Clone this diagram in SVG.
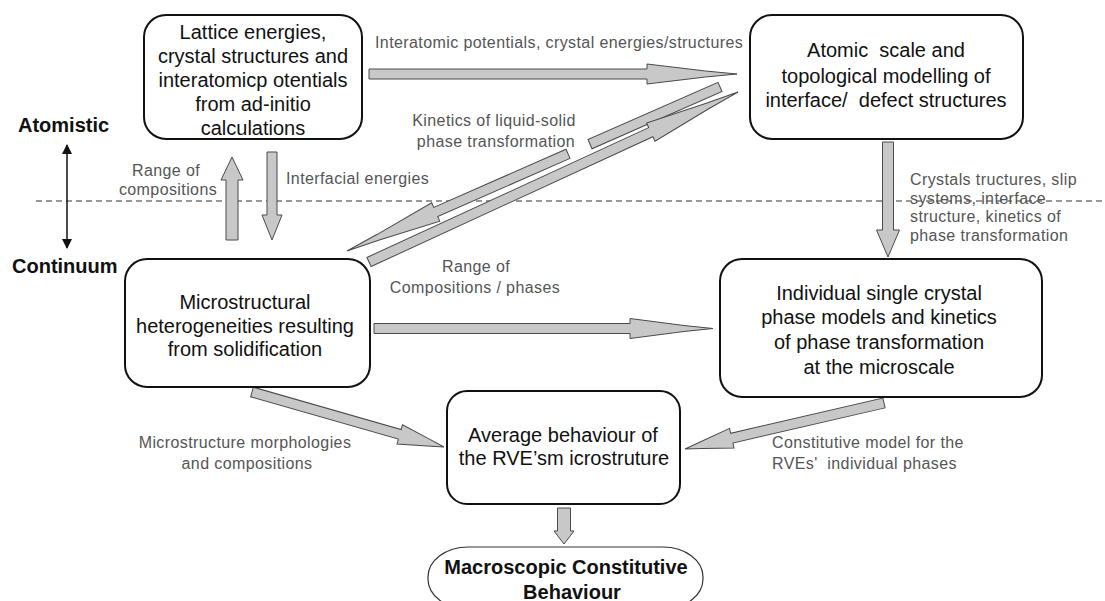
<svg xmlns="http://www.w3.org/2000/svg" width="1105" height="601" viewBox="0 0 1105 601">
<style>
.box{fill:#fff;stroke:#111;stroke-width:2}
.nt{font-family:"Liberation Sans",Arial,sans-serif;font-size:20px;fill:#111;text-anchor:middle}
.lb{font-family:"Liberation Sans",Arial,sans-serif;font-size:16px;fill:#555;letter-spacing:0.4px}
.mid{text-anchor:middle}
.sc{font-family:"Liberation Sans",Arial,sans-serif;font-size:20px;font-weight:bold;fill:#111}
.ar{fill:#c8c8c8;stroke:#4a4a4a;stroke-width:1;stroke-linejoin:miter}
</style>
<defs>
<marker id="hd" viewBox="0 0 10 10" refX="9" refY="5" markerWidth="10" markerHeight="10" markerUnits="userSpaceOnUse" orient="auto-start-reverse">
<path d="M0,0 L10,5 L0,10 Z" fill="#111"/>
</marker>
</defs>
<rect width="1105" height="601" fill="#fff"/>

<!-- scale markers -->
<line x1="36" y1="201" x2="1105" y2="201" stroke="#333" stroke-width="1" stroke-dasharray="6 4"/>
<text class="sc" x="18" y="132">Atomistic</text>
<text class="sc" x="12" y="273">Continuum</text>
<line x1="67" y1="145" x2="67" y2="248" stroke="#111" stroke-width="1.5" marker-start="url(#hd)" marker-end="url(#hd)"/>

<g id="connectors">
<!-- top horizontal -->
<g transform="translate(369,74)"><polygon class="ar" points="0,-5 278,-5 278,-10 336.5,-3 368,0 336.5,3 278,10 278,5 0,5"/></g>
<!-- middle horizontal -->
<g transform="translate(374,328.5)"><polygon class="ar" points="0,-5 256,-5 256,-10 310,-3 339,0 310,3 256,10 256,5 0,5"/></g>
<!-- arrow A: box2 -> box3 -->
<g transform="translate(720,87) rotate(156.27)">
<polygon class="ar" points="0,-5 142,-5 142,5 0,5"/>
<polygon class="ar" points="166,-5 310.5,-5 310.5,-10 373.5,-3 407.5,0 373.5,3 310.5,10 310.5,5 166,5"/>
</g>
<!-- arrow B: box3 -> box2 -->
<g transform="translate(369,262) rotate(-24.74)"><polygon class="ar" points="0,-5 310.3,-5 310.3,-10 372.7,-3 406.3,0 372.7,3 310.3,10 310.3,5 0,5"/></g>
<!-- arrow C: box3 -> box5 -->
<g transform="translate(252,392) rotate(15.98)"><polygon class="ar" points="0,-5 153.7,-5 153.7,-10 183.6,-3.5 199.7,0 183.6,3.5 153.7,10 153.7,5 0,5"/></g>
<!-- arrow D: box4 -> box5 -->
<g transform="translate(884,403) rotate(166.99)"><polygon class="ar" points="0,-5 156.2,-5 156.2,-10 187.4,-3.5 204.2,0 187.4,3.5 156.2,10 156.2,5 0,5"/></g>
<!-- up: box3 -> box1 -->
<g transform="translate(232,240) rotate(-90)"><polygon class="ar" points="0,-6 60,-6 60,-11 83,0 60,11 60,6 0,6"/></g>
<!-- down: box1 -> box3 -->
<g transform="translate(272,152) rotate(90)"><polygon class="ar" points="0,-5 63,-5 63,-10 88,0 63,10 63,5 0,5"/></g>
<!-- down: box2 -> box4 -->
<g transform="translate(888,142) rotate(90)"><polygon class="ar" points="0,-5.5 88,-5.5 88,-11.5 115,0 88,11.5 88,5.5 0,5.5"/></g>
<!-- down: box5 -> macro -->
<g transform="translate(564,508) rotate(90)"><polygon class="ar" points="0,-6.5 23,-6.5 23,-10 36,0 23,10 23,6.5 0,6.5"/></g>
</g>

<g id="labels">
<text class="lb" x="375" y="48">Interatomic potentials, crystal energies/structures</text>
<text class="lb mid" x="494" y="126">Kinetics of liquid-solid</text>
<text class="lb mid" x="496" y="147">phase transformation</text>
<text class="lb mid" x="166" y="176">Range of</text>
<text class="lb mid" x="168" y="195">compositions</text>
<text class="lb" x="286" y="184">Interfacial energies</text>
<text class="lb" x="910" y="185">Crystals tructures, slip</text>
<text class="lb" x="910" y="204">systems, interface</text>
<text class="lb" x="910" y="222">structure, kinetics of</text>
<text class="lb" x="910" y="241">phase transformation</text>
<text class="lb mid" x="476" y="272">Range of</text>
<text class="lb mid" x="475" y="293">Compositions / phases</text>
<text class="lb mid" x="245" y="448">Microstructure morphologies</text>
<text class="lb mid" x="247" y="469">and compositions</text>
<text class="lb" x="772" y="448">Constitutive model for the</text>
<text class="lb" x="772" y="469" xml:space="preserve">RVEs'  individual phases</text>
</g>

<g id="node-lattice">
<rect class="box" x="144" y="15" width="218" height="124" rx="22"/>
<text class="nt" x="253" y="39">Lattice energies,</text>
<text class="nt" x="253" y="63">crystal structures and</text>
<text class="nt" x="253" y="87">interatomicp otentials</text>
<text class="nt" x="253" y="111">from ad-initio</text>
<text class="nt" x="253" y="135">calculations</text>
</g>

<g id="node-atomic">
<rect class="box" x="750" y="15" width="273" height="124" rx="22"/>
<text class="nt" x="886" y="57" xml:space="preserve">Atomic  scale and</text>
<text class="nt" x="886" y="83">topological modelling of</text>
<text class="nt" x="886" y="107" xml:space="preserve">interface/  defect structures</text>
</g>

<g id="node-micro">
<rect class="box" x="125" y="259" width="245" height="128" rx="22"/>
<text class="nt" x="245" y="309">Microstructural</text>
<text class="nt" x="245" y="333">heterogeneities resulting</text>
<text class="nt" x="245" y="356">from solidification</text>
</g>

<g id="node-crystal">
<rect class="box" x="720" y="259" width="322" height="138" rx="22"/>
<text class="nt" x="879" y="300">Individual single crystal</text>
<text class="nt" x="879" y="324">phase models and kinetics</text>
<text class="nt" x="879" y="349">of phase transformation</text>
<text class="nt" x="879" y="374">at the microscale</text>
</g>

<g id="node-average">
<rect class="box" x="447" y="391" width="233" height="113" rx="20"/>
<text class="nt" x="563" y="442">Average behaviour of</text>
<text class="nt" x="564" y="465">the RVE’sm icrostruture</text>
</g>

<g id="node-macro">
<rect x="428" y="547" width="275" height="62" rx="40" ry="30" fill="#fff" stroke="#333" stroke-width="1.2"/>
<text class="sc" x="566" y="574" text-anchor="middle">Macroscopic Constitutive</text>
<text class="sc" x="572" y="599" text-anchor="middle">Behaviour</text>
</g>
</svg>
